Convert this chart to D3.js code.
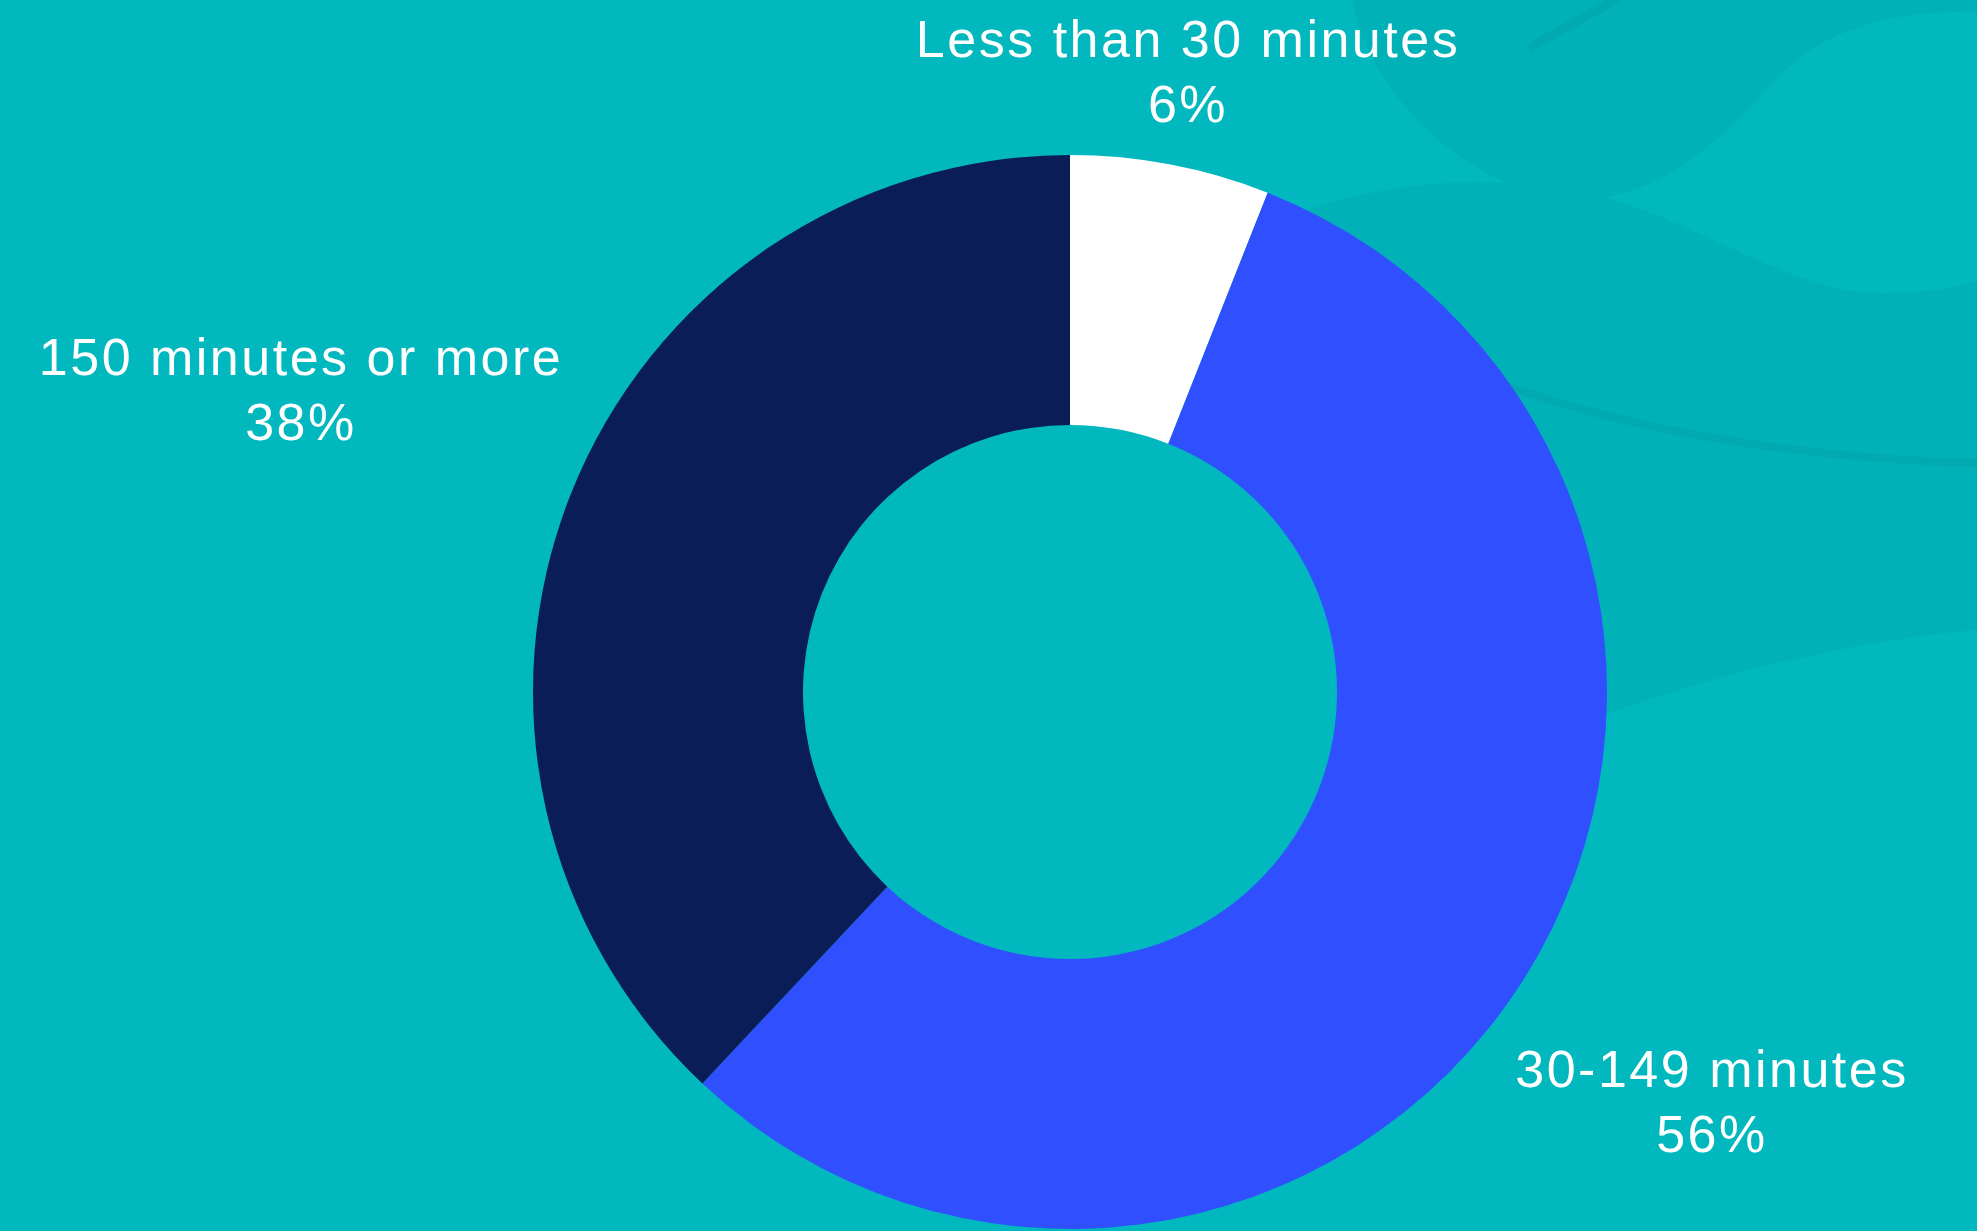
<!DOCTYPE html>
<html>
<head>
<meta charset="utf-8">
<script src="https://cdn.jsdelivr.net/npm/d3@7"></script>
<style>
  html, body { margin: 0; padding: 0; background: #00B8BE; overflow: hidden; }
  svg { display: block; }
</style>
</head>
<body>
<svg id="chart" width="1977" height="1231"></svg>
<script>
// ---- data ----
const categories = ["Less than 30 minutes", "30-149 minutes", "150 minutes or more"];
const values = [6, 56, 38];
const valueLabels = ["6%", "56%", "38%"];
const colors = ["#FFFFFF", "#3050FF", "#0B1D56"];

// ---- layout ----
const W = 1977, H = 1231;
const cx = 1070, cy = 692;
const outerR = 537, innerR = 267;

const svg = d3.select("#chart");

// background
svg.append("rect").attr("width", W).attr("height", H).attr("fill", "#00B8BE");

// subtle decorative background shapes
const deco = svg.append("g");
deco.append("path")
  .attr("d", "M1352,0 C1372,110 1500,215 1605,197 C1690,182 1735,120 1790,66 C1840,22 1910,10 1977,12 L1977,0 Z")
  .attr("fill", "#00B2B8");
deco.append("path")
  .attr("d", "M1300,212 C1390,182 1490,170 1602,197 C1700,222 1790,292 1880,293 C1930,293 1960,286 1977,281 L1977,630 C1860,640 1720,672 1602,716 L1420,716 L1380,400 Z")
  .attr("fill", "#00B2B8");
deco.append("path")
  .attr("d", "M1529,48 L1622,-4")
  .attr("stroke", "#00AAB0").attr("stroke-width", 9).attr("fill", "none");
deco.append("path")
  .attr("d", "M1500,383 C1600,420 1760,457 1977,463")
  .attr("stroke", "#00AAB0").attr("stroke-width", 8).attr("fill", "none");

// donut
const pie = d3.pie().sort(null).value(d => d.value).startAngle(0).endAngle(2 * Math.PI);
const arc = d3.arc().innerRadius(innerR).outerRadius(outerR);
const data = categories.map((c, i) => ({ cat: c, value: values[i], label: valueLabels[i], color: colors[i] }));

const g = svg.append("g").attr("transform", `translate(${cx},${cy})`);
g.selectAll("path.slice")
  .data(pie(data))
  .join("path")
  .attr("class", "slice")
  .attr("d", arc)
  .attr("fill", d => d.data.color);

// labels (positions in page coordinates)
const labelPos = [
  { x: 1188, y: 57 },
  { x: 1712, y: 1087 },
  { x: 301, y: 375 }
];
const lineGap = 65;

const labels = svg.append("g")
  .attr("font-family", "'Liberation Sans', Arial, sans-serif")
  .attr("font-size", 52)
  .attr("letter-spacing", "2.5px")
  .attr("fill", "#FFFFFF")
  .attr("text-anchor", "middle");

data.forEach((d, i) => {
  const t = labels.append("text").attr("x", labelPos[i].x).attr("y", labelPos[i].y);
  t.append("tspan").attr("x", labelPos[i].x).attr("dy", 0).text(d.cat);
  t.append("tspan").attr("x", labelPos[i].x).attr("dy", lineGap).text(d.label);
});
</script>
</body>
</html>
